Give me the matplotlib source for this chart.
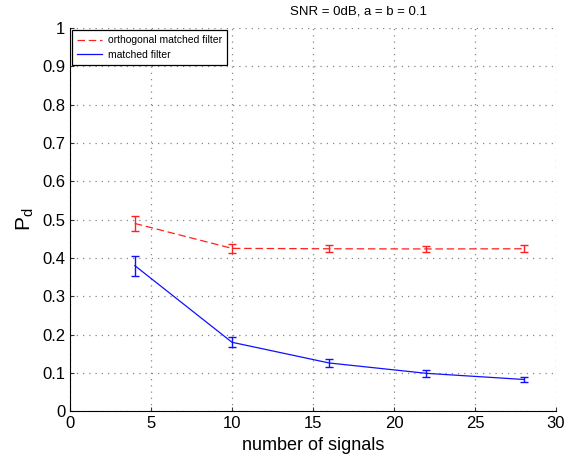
import matplotlib.pyplot as plt

# detection probability vs number of signals
n_signals = [4, 10, 16, 22, 28]
pd_orth = [0.490, 0.425, 0.424, 0.4235, 0.424]
err_orth = [0.020, 0.012, 0.009, 0.0085, 0.009]
pd_mf = [0.380, 0.180, 0.126, 0.099, 0.083]
err_mf = [0.026, 0.013, 0.010, 0.009, 0.007]

plt.rcParams['font.family'] = ['Liberation Sans', 'DejaVu Sans']

fig = plt.figure(figsize=(5.67, 4.68), dpi=100)
ax = fig.add_axes([0.1235, 0.1212, 0.8571, 0.819])

ax.errorbar(n_signals, pd_orth, yerr=err_orth, color='#ff2020', ls='none',
            capsize=3, elinewidth=1.0)
ax.errorbar(n_signals, pd_mf, yerr=err_mf, color='#1010ff', ls='none',
            capsize=3, elinewidth=1.0)
ax.plot(n_signals, pd_orth, color='#ff2020', ls=(0, (6, 3)), lw=0.9,
        label='orthogonal matched filter')
ax.plot(n_signals, pd_mf, color='#1010ff', ls='-', lw=0.9, label='matched filter')

ax.set_xlim(0, 30)
ax.set_ylim(0, 1)
ax.set_xticks(range(0, 31, 5))
ax.set_yticks([i / 10 for i in range(11)])
ax.set_yticklabels(['0'] + ['%.1f' % (i / 10) for i in range(1, 10)] + ['1'])
ax.tick_params(direction='in', labelsize=12, length=3, color='#333333')
ax.grid(True, ls=(0, (1, 4)), color='#888888', lw=0.9)
ax.spines['top'].set_visible(False)
ax.spines['right'].set_visible(False)

ax.set_xlabel('number of signals', fontsize=13)
ax.set_ylabel('P$_\\mathregular{d}$', fontsize=15)
fig.text(359 / 567, 1 - 12 / 468, 'SNR = 0dB, a = b = 0.1', ha='center', va='center', fontsize=9.5)

leg = ax.legend(loc='upper left', fontsize=7.5, fancybox=False, framealpha=1,
                edgecolor='black', borderaxespad=0.2, handlelength=2.4, borderpad=0.5,
                labelspacing=0.45, handletextpad=0.5)
leg.get_frame().set_linewidth(0.9)

fig.savefig('out.png')
